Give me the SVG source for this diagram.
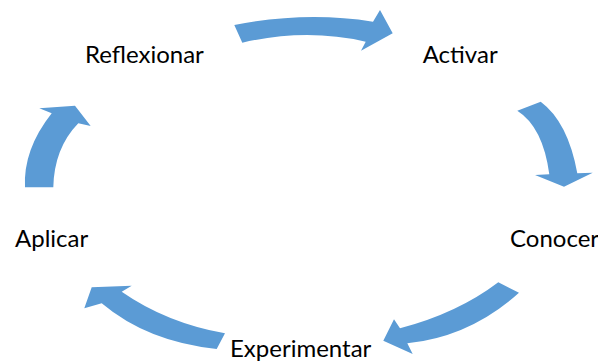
<svg xmlns="http://www.w3.org/2000/svg" width="598" height="364" viewBox="0 0 598 364">
  <style>
    .arrow { fill: #5B9BD5; stroke: none; }
    .label { font-family: Lato, "Open Sans", "Liberation Sans", sans-serif; font-size: 24px; fill: #000000; }
  </style>
  <rect x="0" y="0" width="598" height="364" fill="#ffffff"/>

  <!-- curved cycle arrows -->
  <g id="connectors">
    <path class="arrow" d="M234.3,25 Q306,11 373,21.7 L380,10 L392.7,33.3 L361,50.7 L365.7,41.7 Q306,28 242.3,42.7 Z"/>
    <path class="arrow" d="M540.7,101.7 Q568,122 577.3,173.3 L592.7,172.7 L564,186.7 L535,175 L549.3,174.3 Q543,127 517.3,110.7 Z"/>
    <path class="arrow" d="M498.3,282.3 Q457.4,313.3 400,328.3 L394,319.3 L383.3,340.7 L412.7,354 L407.3,343.3 Q470.2,336.6 519,292.7 Z"/>
    <path class="arrow" d="M225,333.3 Q166.6,322.9 121.7,291.7 L131.7,285.7 L91.7,287.3 L84.3,308.3 L101.7,303.3 Q147.4,341.8 216.7,349 Z"/>
    <path class="arrow" d="M25,187.3 Q23,149.7 51.7,113.3 L39.3,108.3 L75,105.7 L90.7,126 L78.3,123.3 Q54.2,148.1 53.3,187.3 Z"/>
  </g>

  <g id="node-activar">
    <text class="label" x="422.7" y="62.7">Activar</text>
  </g>
  <g id="node-conocer">
    <text class="label" x="510" y="246.7">Conocer</text>
  </g>
  <g id="node-experimentar">
    <text class="label" x="230" y="357.3">Experimentar</text>
  </g>
  <g id="node-aplicar">
    <text class="label" x="15" y="246.7">Aplicar</text>
  </g>
  <g id="node-reflexionar">
    <text class="label" x="85" y="63.3">Reflexionar</text>
  </g>
</svg>
